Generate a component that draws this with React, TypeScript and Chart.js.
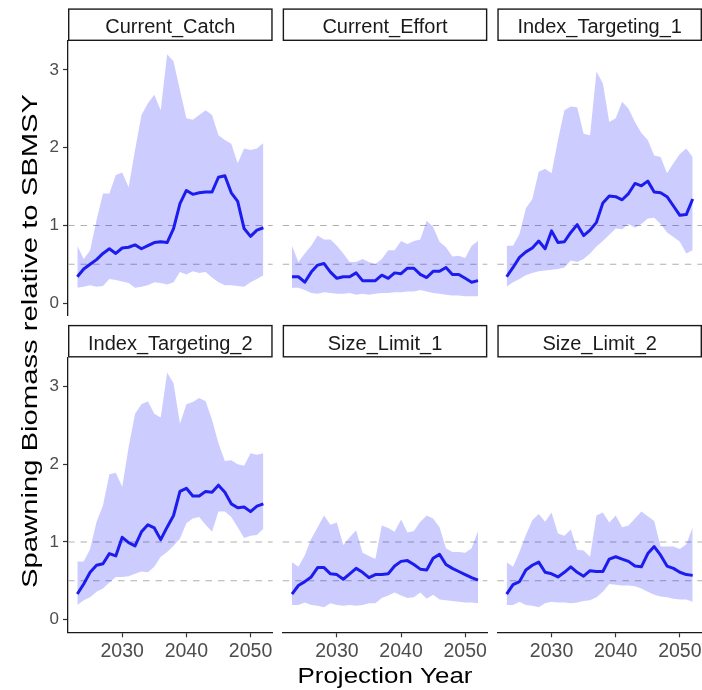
import React, { useEffect, useRef } from "react";
import { Chart, registerables } from "chart.js";

Chart.register(...registerables);

// ---------------- DATA ----------------
const years = [
  2023, 2024, 2025, 2026, 2027, 2028, 2029, 2030, 2031, 2032,
  2033, 2034, 2035, 2036, 2037, 2038, 2039, 2040, 2041, 2042,
  2043, 2044, 2045, 2046, 2047, 2048, 2049, 2050, 2051, 2052,
];

const panelNames = [
  "Current_Catch",
  "Current_Effort",
  "Index_Targeting_1",
  "Index_Targeting_2",
  "Size_Limit_1",
  "Size_Limit_2",
];

const currentCatchMedian = [0.34, 0.44, 0.5, 0.56, 0.64, 0.7, 0.64, 0.71, 0.72, 0.75, 0.7, 0.74, 0.78, 0.79, 0.78, 0.96, 1.28, 1.45, 1.4, 1.42, 1.43, 1.43, 1.62, 1.64, 1.42, 1.31, 0.96, 0.86, 0.94, 0.97];
const currentCatchUpper = [0.74, 0.57, 0.68, 1.07, 1.41, 1.41, 1.65, 1.68, 1.49, 1.97, 2.42, 2.57, 2.68, 2.48, 3.2, 3.11, 2.74, 2.38, 2.36, 2.42, 2.48, 2.42, 2.16, 2.1, 2.05, 1.8, 1.99, 1.97, 1.99, 2.06];
const currentCatchLower = [0.2, 0.21, 0.23, 0.21, 0.22, 0.31, 0.3, 0.28, 0.26, 0.2, 0.21, 0.23, 0.27, 0.26, 0.24, 0.27, 0.4, 0.37, 0.41, 0.39, 0.4, 0.33, 0.27, 0.23, 0.23, 0.22, 0.21, 0.27, 0.31, 0.36];

const currentEffortMedian = [0.34, 0.34, 0.27, 0.4, 0.49, 0.51, 0.4, 0.32, 0.34, 0.34, 0.39, 0.29, 0.29, 0.29, 0.36, 0.32, 0.39, 0.38, 0.45, 0.45, 0.37, 0.33, 0.41, 0.41, 0.46, 0.37, 0.37, 0.32, 0.27, 0.29];
const currentEffortUpper = [0.74, 0.53, 0.64, 0.74, 0.87, 0.82, 0.82, 0.74, 0.64, 0.53, 0.53, 0.57, 0.53, 0.5, 0.57, 0.68, 0.68, 0.8, 0.76, 0.8, 0.82, 1.06, 0.98, 0.79, 0.72, 0.6, 0.61, 0.58, 0.74, 0.8];
const currentEffortLower = [0.2, 0.2, 0.17, 0.13, 0.12, 0.14, 0.13, 0.12, 0.12, 0.13, 0.11, 0.12, 0.11, 0.12, 0.13, 0.13, 0.14, 0.14, 0.15, 0.15, 0.17, 0.15, 0.13, 0.12, 0.11, 0.1, 0.1, 0.09, 0.09, 0.09];

const indexTargeting1Median = [0.34, 0.46, 0.59, 0.66, 0.71, 0.8, 0.7, 0.93, 0.78, 0.79, 0.91, 1.01, 0.87, 0.94, 1.04, 1.29, 1.38, 1.37, 1.33, 1.41, 1.54, 1.51, 1.57, 1.43, 1.42, 1.37, 1.25, 1.13, 1.14, 1.34];
const indexTargeting1Upper = [0.74, 0.74, 0.89, 1.22, 1.34, 1.69, 1.73, 1.67, 2.1, 2.48, 2.53, 2.52, 2.18, 2.16, 2.98, 2.83, 2.33, 2.38, 2.59, 2.5, 2.33, 2.19, 2.1, 1.9, 1.88, 1.67, 1.8, 1.92, 1.99, 1.88];
const indexTargeting1Lower = [0.21, 0.27, 0.31, 0.36, 0.39, 0.41, 0.42, 0.43, 0.44, 0.46, 0.55, 0.53, 0.57, 0.64, 0.73, 0.8, 0.88, 0.96, 0.95, 1.02, 0.97, 1.02, 1.09, 1.1, 1.02, 0.91, 0.85, 0.79, 0.64, 0.68];

const indexTargeting2Median = [0.33, 0.46, 0.61, 0.7, 0.72, 0.85, 0.82, 1.06, 0.99, 0.95, 1.13, 1.22, 1.18, 1.03, 1.19, 1.34, 1.65, 1.69, 1.59, 1.59, 1.65, 1.64, 1.73, 1.64, 1.49, 1.44, 1.45, 1.39, 1.46, 1.49];
const indexTargeting2Upper = [0.75, 0.75, 0.91, 1.26, 1.47, 1.87, 1.89, 1.71, 2.22, 2.65, 2.77, 2.81, 2.65, 2.6, 3.18, 3.04, 2.52, 2.77, 2.8, 2.85, 2.81, 2.57, 2.27, 2.04, 2.05, 2.0, 1.98, 2.14, 2.12, 2.14];
const indexTargeting2Lower = [0.19, 0.25, 0.29, 0.36, 0.4, 0.48, 0.55, 0.55, 0.56, 0.59, 0.62, 0.61, 0.68, 0.81, 0.87, 0.95, 1.04, 1.24, 1.3, 1.32, 1.22, 1.13, 1.39, 1.39, 1.32, 1.19, 1.05, 1.08, 1.09, 1.17];

const sizeLimit1Median = [0.33, 0.44, 0.49, 0.55, 0.67, 0.67, 0.59, 0.58, 0.52, 0.59, 0.66, 0.61, 0.54, 0.58, 0.58, 0.59, 0.69, 0.75, 0.76, 0.71, 0.65, 0.64, 0.79, 0.84, 0.71, 0.66, 0.62, 0.58, 0.54, 0.51];
const sizeLimit1Upper = [0.74, 0.68, 0.83, 1.04, 1.19, 1.34, 1.22, 1.25, 0.96, 1.06, 1.15, 0.86, 0.82, 0.78, 1.21, 1.18, 1.13, 1.29, 1.12, 1.14, 1.26, 1.34, 1.3, 1.19, 0.92, 0.87, 0.87, 0.86, 0.92, 1.14];
const sizeLimit1Lower = [0.19, 0.19, 0.22, 0.19, 0.18, 0.16, 0.21, 0.19, 0.18, 0.19, 0.18, 0.19, 0.21, 0.21, 0.28, 0.31, 0.35, 0.31, 0.28, 0.29, 0.35, 0.27, 0.32, 0.26, 0.25, 0.24, 0.23, 0.22, 0.22, 0.21];

const sizeLimit2Median = [0.33, 0.45, 0.49, 0.64, 0.7, 0.74, 0.61, 0.59, 0.55, 0.61, 0.68, 0.61, 0.56, 0.63, 0.62, 0.62, 0.78, 0.81, 0.78, 0.75, 0.69, 0.68, 0.85, 0.94, 0.83, 0.69, 0.66, 0.61, 0.58, 0.57];
const sizeLimit2Upper = [0.74, 0.68, 0.87, 1.09, 1.28, 1.36, 1.26, 1.38, 1.11, 1.08, 1.16, 0.9, 0.89, 0.81, 1.34, 1.38, 1.25, 1.34, 1.19, 1.21, 1.3, 1.39, 1.33, 1.27, 0.94, 0.94, 0.94, 0.91, 0.97, 1.19];
const sizeLimit2Lower = [0.19, 0.19, 0.23, 0.19, 0.18, 0.16, 0.21, 0.23, 0.22, 0.22, 0.21, 0.22, 0.24, 0.25, 0.29, 0.36, 0.46, 0.45, 0.44, 0.44, 0.43, 0.4, 0.36, 0.32, 0.3, 0.29, 0.27, 0.26, 0.26, 0.23];

const medians = [currentCatchMedian, currentEffortMedian, indexTargeting1Median, indexTargeting2Median, sizeLimit1Median, sizeLimit2Median];
const uppers = [currentCatchUpper, currentEffortUpper, indexTargeting1Upper, indexTargeting2Upper, sizeLimit1Upper, sizeLimit2Upper];
const lowers = [currentCatchLower, currentEffortLower, indexTargeting1Lower, indexTargeting2Lower, sizeLimit1Lower, sizeLimit2Lower];

const referenceLines = [1, 0.5];
const xTickValues = [2030, 2040, 2050];
const yTickValues = [0, 1, 2, 3];
const xLimits = [2021.55, 2053.45];
const yLimits = [-0.162, 3.372];
const xTitle = "Projection Year";
const yTitle = "Spawning Biomass relative to SBMSY";

// ---------------- LAYOUT / STYLE ----------------
const W = 702;
const H = 690;
const PANEL_LEFT0 = 68;
const PANEL_GAP = 10;
const PANEL_W = (W - PANEL_LEFT0 - 2 * PANEL_GAP) / 3;
const ROW_TOPS = [41, 357.5];
const PANEL_H = 274.8;
const STRIP_H = 32.6;
const FONT = "'Liberation Sans', Arial, Helvetica, sans-serif";
const RIBBON = "rgba(0,0,255,0.2)";
const LINE = "rgb(35,35,235)";

function toXY(vals: number[]) {
  return vals.map((v, i) => ({ x: years[i], y: v }));
}

function makeStripPlugin(label: string) {
  return {
    id: "strip",
    afterDraw(chart: any) {
      const { ctx, chartArea } = chart;
      const x = chartArea.left;
      const w = chartArea.right - chartArea.left;
      const y = chartArea.top - STRIP_H;
      ctx.save();
      ctx.fillStyle = "#ffffff";
      ctx.fillRect(x, y, w, STRIP_H);
      ctx.strokeStyle = "#1a1a1a";
      ctx.lineWidth = 1.4;
      ctx.strokeRect(x + 0.7, y + 0.7, w - 1.4, STRIP_H - 1.4);
      ctx.fillStyle = "#1a1a1a";
      ctx.font = `20px ${FONT}`;
      ctx.textAlign = "center";
      ctx.textBaseline = "alphabetic";
      ctx.fillText(label, x + w / 2, y + 25);
      ctx.restore();
    },
  };
}

const refLinePlugin = {
  id: "refLines",
  beforeDatasetsDraw(chart: any) {
    const { ctx, chartArea, scales } = chart;
    ctx.save();
    ctx.strokeStyle = "#b0b0b0";
    ctx.lineWidth = 1.1;
    ctx.setLineDash([6.5, 6]);
    referenceLines.forEach((v) => {
      const y = scales.y.getPixelForValue(v);
      ctx.beginPath();
      ctx.moveTo(chartArea.left, y);
      ctx.lineTo(chartArea.right, y);
      ctx.stroke();
    });
    ctx.restore();
  },
};

function drawStretched(ctx: any, text: string, font: string, span: number) {
  ctx.font = font;
  const w = ctx.measureText(text).width;
  ctx.scale(span / w, 1);
  ctx.textAlign = "center";
  ctx.textBaseline = "alphabetic";
  ctx.fillText(text, 0, 0);
}

const axisTitlePlugin = {
  id: "axisTitles",
  afterDraw(chart: any) {
    const { ctx } = chart;
    const panelsCenterX = (PANEL_LEFT0 + W) / 2;
    ctx.save();
    ctx.fillStyle = "#000000";
    ctx.translate(panelsCenterX, 683);
    drawStretched(ctx, xTitle, `22.5px ${FONT}`, 175);
    ctx.restore();

    ctx.save();
    ctx.fillStyle = "#000000";
    ctx.translate(37, 341);
    ctx.rotate(-Math.PI / 2);
    drawStretched(ctx, yTitle, `22px ${FONT}`, 494);
    ctx.restore();
  },
};

function buildConfig(i: number): any {
  const r = Math.floor(i / 3);
  const c = i % 3;
  const left = PANEL_LEFT0 + c * (PANEL_W + PANEL_GAP);
  const right = left + PANEL_W;
  const top = ROW_TOPS[r];
  const bottom = top + PANEL_H;
  const showY = c === 0;
  const showX = r === 1;
  const yAxisW = PANEL_LEFT0;
  const xAxisH = H - bottom;

  const plugins: any[] = [refLinePlugin, makeStripPlugin(panelNames[i])];
  if (i === 3) plugins.push(axisTitlePlugin);

  return {
    type: "line",
    data: {
      datasets: [
        {
          data: toXY(lowers[i]),
          borderColor: "transparent",
          borderWidth: 0,
          pointRadius: 0,
          fill: false,
        },
        {
          data: toXY(uppers[i]),
          borderColor: "transparent",
          borderWidth: 0,
          pointRadius: 0,
          fill: "-1",
          backgroundColor: RIBBON,
        },
        {
          data: toXY(medians[i]),
          borderColor: LINE,
          borderWidth: 3,
          pointRadius: 0,
          fill: false,
          borderJoinStyle: "round",
          borderCapStyle: "butt",
          tension: 0,
        },
      ],
    },
    options: {
      responsive: false,
      animation: false,
      events: [],
      layout: {
        padding: {
          left: showY ? left - yAxisW : left,
          right: W - right,
          top: top,
          bottom: showX ? 0 : H - bottom,
        },
      },
      plugins: {
        legend: { display: false },
        title: { display: false },
        tooltip: { enabled: false },
      },
      scales: {
        x: {
          type: "linear",
          min: xLimits[0],
          max: xLimits[1],
          display: showX,
          afterBuildTicks: (s: any) => {
            s.ticks = xTickValues.map((v) => ({ value: v }));
          },
          afterFit: (s: any) => {
            s.height = showX ? xAxisH : 0;
            s.paddingLeft = 0;
            s.paddingRight = 0;
          },
          grid: {
            display: true,
            drawOnChartArea: false,
            drawTicks: true,
            tickLength: 5,
            tickWidth: 1.2,
            tickColor: "#333333",
          },
          border: { display: true, color: "#1a1a1a", width: 1.3 },
          ticks: {
            color: "#4d4d4d",
            font: { family: FONT, size: 19.5 },
            padding: 3,
            maxRotation: 0,
            autoSkip: false,
            callback: (v: any) => String(v),
          },
        },
        y: {
          type: "linear",
          min: yLimits[0],
          max: yLimits[1],
          display: showY,
          afterBuildTicks: (s: any) => {
            s.ticks = yTickValues.map((v) => ({ value: v }));
          },
          afterFit: (s: any) => {
            s.width = showY ? yAxisW : 0;
            s.paddingTop = 0;
            s.paddingBottom = 0;
          },
          grid: {
            display: true,
            drawOnChartArea: false,
            drawTicks: true,
            tickLength: 5,
            tickWidth: 1.2,
            tickColor: "#333333",
          },
          border: { display: true, color: "#1a1a1a", width: 1.3 },
          ticks: {
            color: "#4d4d4d",
            font: { family: FONT, size: 17 },
            padding: 4,
            autoSkip: false,
            callback: (v: any) => String(v),
          },
        },
      },
    },
    plugins,
  };
}

export default function App() {
  const refs = useRef<(HTMLCanvasElement | null)[]>([]);

  useEffect(() => {
    const charts: Chart[] = [];
    refs.current.forEach((cv, i) => {
      if (cv) charts.push(new Chart(cv, buildConfig(i)));
    });
    return () => {
      charts.forEach((ch) => ch.destroy());
    };
  }, []);

  return (
    <div
      style={{
        position: "absolute",
        left: 0,
        top: 0,
        width: W,
        height: H,
        background: "#ffffff",
        overflow: "hidden",
      }}
    >
      {panelNames.map((name, i) => (
        <canvas
          key={name}
          ref={(el) => {
            refs.current[i] = el;
          }}
          width={W}
          height={H}
          style={{ position: "absolute", left: 0, top: 0, width: W, height: H }}
        />
      ))}
    </div>
  );
}
